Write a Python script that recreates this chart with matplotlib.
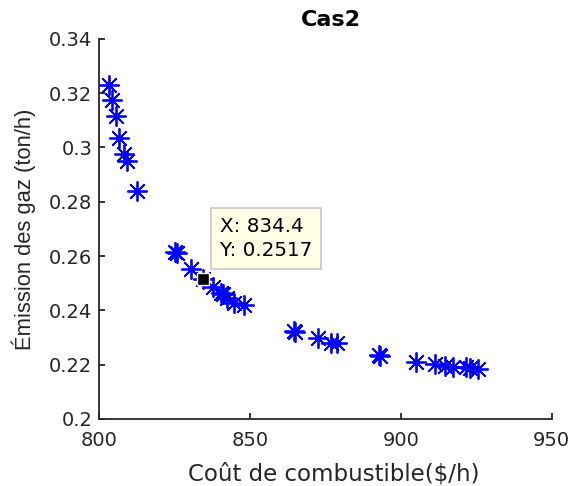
import matplotlib
matplotlib.use('Agg')
import matplotlib.pyplot as plt

plt.rcParams['font.family'] = ['DejaVu Sans']

# Front de Pareto : coût de combustible vs émission
cout = [803.3, 804.3, 805.6, 806.7, 808.2, 809.4, 812.5,
        825.3, 825.8, 830.5, 834.4, 837.8, 840.5, 841.0, 842.4, 844.7, 848.1,
        864.6, 865.0, 872.5, 877.0, 878.9, 892.6, 893.1,
        905.1, 911.4, 914.5, 917.2, 921.6, 923.0, 925.7]
emission = [0.3230, 0.3175, 0.3116, 0.3036, 0.2976, 0.2950, 0.2840,
            0.2616, 0.2612, 0.2554, 0.2517, 0.2487, 0.2465, 0.2460, 0.2447, 0.2426, 0.2420,
            0.2323, 0.2320, 0.2297, 0.2281, 0.2278, 0.2237, 0.2233,
            0.2211, 0.2201, 0.2196, 0.2192, 0.2190, 0.2187, 0.2184]

# point sélectionné (data tip)
tip_x = 834.4
tip_y = 0.2517

xticks = [800, 850, 900, 950]
yticks = [0.2, 0.22, 0.24, 0.26, 0.28, 0.3, 0.32, 0.34]
ylabels = ['0.2', '0.22', '0.24', '0.26', '0.28', '0.3', '0.32', '0.34']

gris = '#262626'

fig = plt.figure(figsize=(5.76, 4.86), dpi=100)
ax = fig.add_axes([0.172, 0.138, 0.786, 0.782])

ax.plot(cout, emission, linestyle='none', marker=(8, 2, 0), markersize=14.5,
        markeredgewidth=1.3, color='#0000ff')

ax.plot([tip_x], [tip_y], marker='s', markersize=9, color='black',
        markeredgecolor='#fffff0', markeredgewidth=1.0, zorder=5)
ax.annotate('X: %.1f\nY: %.4f' % (tip_x, tip_y), xy=(tip_x, tip_y),
            xytext=(17, 19), textcoords='offset pixels', ha='left', va='bottom',
            fontsize=14.3, color='black', linespacing=1.3,
            bbox=dict(boxstyle='square,pad=0.45', fc='#ffffe6', ec='#c8c8c8', lw=1.2))

ax.set_xlim(800, 950)
ax.set_ylim(0.2, 0.34)
ax.set_xticks(xticks)
ax.set_yticks(yticks)
ax.set_yticklabels(ylabels)

for s in ['top', 'right']:
    ax.spines[s].set_visible(False)
for s in ['left', 'bottom']:
    ax.spines[s].set_color(gris)
    ax.spines[s].set_linewidth(1.3)
ax.tick_params(direction='in', length=4, width=1.3, colors=gris, labelsize=14)
ax.tick_params(axis='x', pad=9)
ax.tick_params(axis='y', pad=5)

ax.set_title('Cas2', fontsize=16, fontweight='bold', color='black', pad=9, x=0.512)
ax.set_xlabel('Coût de combustible($/h)', fontsize=16.5, color=gris)
ax.xaxis.set_label_coords(0.518, -0.115)
ax.set_ylabel('Émission des gaz (ton/h)', fontsize=15.8, color=gris, labelpad=9,
              family='Liberation Sans')

fig.savefig('out.png', dpi=100)
